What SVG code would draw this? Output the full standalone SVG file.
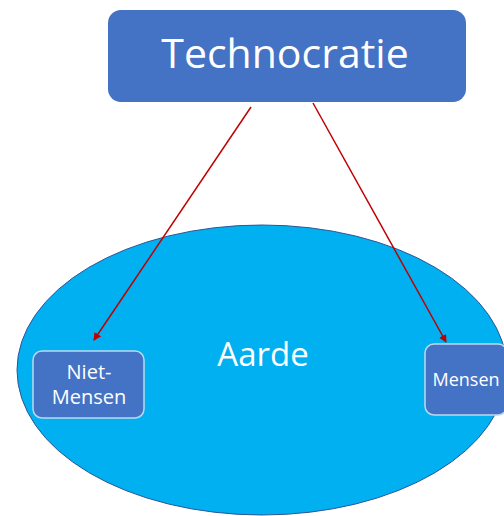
<svg xmlns="http://www.w3.org/2000/svg" width="504" height="516" viewBox="0 0 504 516">
<style>
.box{fill:#4472C4}
.inner{fill:#4472C4;stroke:#BDD7EE;stroke-width:1.5}
.t{fill:#ffffff;font-family:"Open Sans","Liberation Sans",sans-serif;text-anchor:middle}
.c{stroke:#C00000;stroke-width:1.5;fill:none;marker-end:url(#ah)}
</style>
<defs>
<marker id="ah" markerWidth="8" markerHeight="8" refX="7" refY="4" orient="auto" markerUnits="userSpaceOnUse">
<path d="M0,0 L8,4 L0,8 Z" fill="#C00000"/>
</marker>
</defs>
<rect width="504" height="516" fill="#ffffff"/>
<g id="aarde">
<ellipse cx="262" cy="370" rx="245" ry="145" fill="#00B0F0" stroke="#2F5597" stroke-width="1"/>
<text class="t" x="263" y="366" font-size="33">Aarde</text>
</g>
<g id="technocratie">
<rect class="box" x="108" y="10" width="358" height="92" rx="13"/>
<text class="t" x="285" y="68" font-size="41">Technocratie</text>
</g>
<g id="niet-mensen">
<rect class="inner" x="33" y="351" width="111" height="67" rx="9"/>
<text class="t" x="89" y="379" font-size="20">Niet-</text>
<text class="t" x="89" y="404" font-size="20">Mensen</text>
</g>
<g id="mensen">
<rect class="inner" x="425" y="344" width="82" height="71" rx="9"/>
<text class="t" x="466" y="386" font-size="18">Mensen</text>
</g>
<g id="connectors">
<line class="c" x1="251" y1="107" x2="94" y2="340"/>
<line class="c" x1="313" y1="103" x2="446" y2="342"/>
</g>
</svg>
